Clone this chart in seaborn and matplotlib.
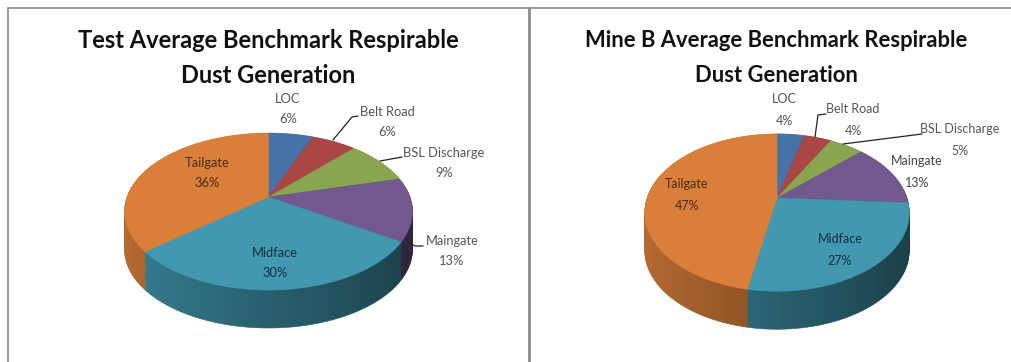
import matplotlib
matplotlib.use("Agg")
import matplotlib.pyplot as plt
import numpy as np
import seaborn as sns
from matplotlib.transforms import Transform

categories = ["LOC", "Belt Road", "BSL Discharge", "Maingate", "Midface", "Tailgate"]
test_values = [6, 6, 9, 13, 30, 36]
mine_b_values = [4, 4, 5, 13, 27, 47]
test_title = "Test Average Benchmark Respirable\nDust Generation"
mine_b_title = "Mine B Average Benchmark Respirable\nDust Generation"
slice_colors = ["#4572a7", "#aa4643", "#89a54e", "#71588f", "#4198af", "#d97f3a"]

# label centres in pixels, same order as categories
test_label_pos = [(288, 109), (387, 122), (444, 163), (452, 251), (275, 263), (207, 173)]
mine_b_label_pos = [(784, 110), (853, 120), (960, 140), (917, 172), (840, 250), (687, 195)]
label_colors = ["#555555", "#555555", "#555555", "#555555", "#12303f", "#4a2a10"]
mine_b_label_colors = ["#555555", "#555555", "#555555", "#444444", "#12303f", "#4a2a10"]

test_leaders = [[(333, 140), (352, 117), (358, 116)],
                [(380, 161), (402, 157)],
                [(408, 242), (415, 246), (423, 246)]]
mine_b_leaders = [[(815, 137), (818, 115), (826, 114)],
                  [(843, 144), (922, 134)]]


class TiltedPie(Transform):
    """Maps the unit pie circle onto a tilted disc, in pixels, with some perspective."""
    input_dims = 2
    output_dims = 2
    is_separable = False

    def __init__(self, cx, cy, width, height, persp, drop=0):
        super().__init__()
        self.cx, self.cy = cx, cy
        self.width, self.height = width, height
        self.persp = persp
        self.drop = drop

    def transform_non_affine(self, values):
        values = np.asarray(values, dtype=float)
        w = 1 + self.persp * values[:, 1]
        px = self.cx + self.width * values[:, 0] / w
        py = self.cy - self.height * values[:, 1] / w + self.drop
        return np.column_stack([px, py])


def place_wedges(ax, wedges, trans):
    for w in wedges:
        w.set_edgecolor(w.get_facecolor())
        w.set_linewidth(0.4)
        w.set_transform(trans + ax.transData)


def draw_pie(ax, values, cx, cy, width, height, depth):
    persp = 0.185
    strips_per_pct = 2
    strip_base = np.repeat(np.arange(len(values)), np.array(values) * strips_per_pct)
    strip_values = np.full(len(strip_base), 1 / strips_per_pct)
    mids = (np.cumsum(strip_values) - strip_values / 2) / 100 * 2 * np.pi
    shade = 0.63 - 0.22 * np.sin(mids)
    base = np.array(sns.color_palette(slice_colors))
    strip_colors = np.clip(base[strip_base] * shade[:, None], 0, 1)

    # side of the disc: stacked layers from the bottom up
    for drop in np.arange(depth, 0, -1.5):
        wedges, _ = ax.pie(strip_values, colors=strip_colors, startangle=90, counterclock=False)
        place_wedges(ax, wedges, TiltedPie(cx, cy, width, height, persp, drop))

    wedges, _ = ax.pie(values, colors=slice_colors, startangle=90, counterclock=False)
    place_wedges(ax, wedges, TiltedPie(cx, cy, width, height, persp))


def draw_labels(ax, values, positions, colors, size, spacing):
    for cat, val, (x, y), col in zip(categories, values, positions, colors):
        ax.text(x, y, f"{cat}\n{val}%", ha="center", va="center", fontsize=size,
                color=col, linespacing=spacing)


sns.set_theme(style="white")
plt.rcParams["font.family"] = ["Lato", "DejaVu Sans"]

fig = plt.figure(figsize=(10.11, 3.62), dpi=100)
ax = fig.add_axes([0, 0, 1, 1])

draw_pie(ax, test_values, 268.5, 197, 141.5, 75.8, 38)
draw_pie(ax, mine_b_values, 777, 198, 130, 76, 38)

ax.set_aspect("auto")
ax.set_xlim(0, 1011)
ax.set_ylim(362, 0)
ax.set_axis_off()

draw_labels(ax, test_values, test_label_pos, label_colors, 9.3, 1.85)
draw_labels(ax, mine_b_values, mine_b_label_pos, mine_b_label_colors, 9, 1.92)

ax.text(268, 58, test_title, ha="center", va="center", fontsize=17, fontweight="bold",
        color="#111111", linespacing=1.67)
ax.text(776, 58, mine_b_title, ha="center", va="center", fontsize=15.8, fontweight="bold",
        color="#111111", linespacing=1.8)

for leader in test_leaders + mine_b_leaders:
    xs, ys = zip(*leader)
    ax.plot(xs, ys, color="#222222", lw=0.9)

# panel frames from the screenshot
ax.plot([8, 8], [362, 7.5], color="#8c8c8c", lw=1.2)
ax.plot([8, 1011], [7.5, 7.5], color="#8c8c8c", lw=1.2)
ax.plot([529, 529], [7.5, 362], color="#8c8c8c", lw=2)

fig.savefig("out.png", dpi=100)
plt.close(fig)
